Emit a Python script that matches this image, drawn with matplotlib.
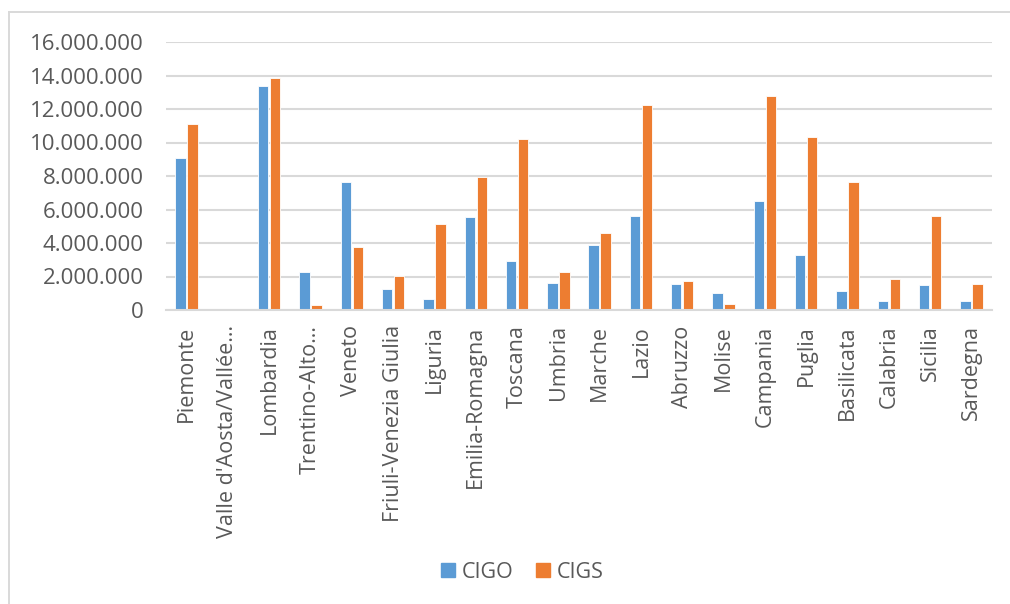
import matplotlib
matplotlib.use("Agg")
import matplotlib.pyplot as plt
from matplotlib.lines import Line2D
from matplotlib.ticker import FuncFormatter
import numpy as np

regions = ["Piemonte", "Valle d'Aosta/Vallée…", "Lombardia", "Trentino-Alto…", "Veneto",
           "Friuli-Venezia Giulia", "Liguria", "Emilia-Romagna", "Toscana", "Umbria",
           "Marche", "Lazio", "Abruzzo", "Molise", "Campania", "Puglia", "Basilicata",
           "Calabria", "Sicilia", "Sardegna"]
cigo = [9060000, 20000, 13350000, 2270000, 7620000, 1230000, 680000, 5530000, 2900000, 1630000,
        3860000, 5610000, 1550000, 1000000, 6490000, 3300000, 1150000, 520000, 1470000, 520000]
cigs = [11120000, 15000, 13830000, 280000, 3780000, 2030000, 5150000, 7940000, 10190000, 2270000,
        4580000, 12240000, 1710000, 360000, 12800000, 10330000, 7620000, 1870000, 5610000, 1550000]
yticks = [0, 2000000, 4000000, 6000000, 8000000, 10000000, 12000000, 14000000, 16000000]
series_names = ["CIGO", "CIGS"]

BLUE = "#5B9BD5"
ORANGE = "#ED7D31"
GRID = "#D9D9D9"
TXT = "#595959"

plt.rcParams['font.family'] = ['Open Sans', 'DejaVu Sans']

W, H = 1010, 604
fig = plt.figure(figsize=(W / 100, H / 100), dpi=100)
ax = fig.add_axes([166 / W, 1 - 310 / H, (992 - 166) / W, (310 - 42) / H])

x = np.arange(len(regions))
bw = 0.25
ax.bar(x - bw / 2 - 0.02, cigo, width=bw, color=BLUE, edgecolor="white", linewidth=0.6, zorder=3)
ax.bar(x + bw / 2 + 0.02, cigs, width=bw, color=ORANGE, edgecolor="white", linewidth=0.6, zorder=3)

ax.set_xlim(-0.5, len(regions) - 0.5)
ax.set_ylim(0, 16000000)
ax.set_yticks(yticks)
ax.yaxis.set_major_formatter(FuncFormatter(lambda v, p: f"{int(v):,}".replace(",", ".")))
ax.yaxis.grid(True, color=GRID, linewidth=1.5, zorder=0)
ax.set_axisbelow(True)
for s in ["top", "right", "left"]:
    ax.spines[s].set_visible(False)
ax.spines["bottom"].set_color(GRID)
ax.spines["bottom"].set_linewidth(1.5)
ax.spines["bottom"].set_zorder(4)

ax.set_xticks(x)
ax.set_xticklabels(regions, rotation=90, ha="center", va="top")
ax.tick_params(axis="x", length=0, pad=11, labelsize=15.5, labelcolor=TXT)
ax.tick_params(axis="y", length=0, pad=16, labelsize=16, labelcolor=TXT)

handles = [Line2D([0], [0], marker="s", linestyle="none", markersize=9.5, color=BLUE),
           Line2D([0], [0], marker="s", linestyle="none", markersize=9.5, color=ORANGE)]
fig.legend(handles, series_names, loc="center", bbox_to_anchor=(521 / W, 1 - 572 / H),
           ncol=2, frameon=False, fontsize=15.5, labelcolor=TXT, handletextpad=0.2,
           columnspacing=0.9, handlelength=0.9)

# outer chart frame (top and left edges visible)
fig.add_artist(Line2D([9 / W, 1], [1 - 11.5 / H, 1 - 11.5 / H], color=GRID, linewidth=1.4,
                      transform=fig.transFigure))
fig.add_artist(Line2D([9 / W, 9 / W], [0, 1 - 11.5 / H], color=GRID, linewidth=1.4,
                      transform=fig.transFigure))

fig.savefig("out.png", dpi=100, facecolor="white")
